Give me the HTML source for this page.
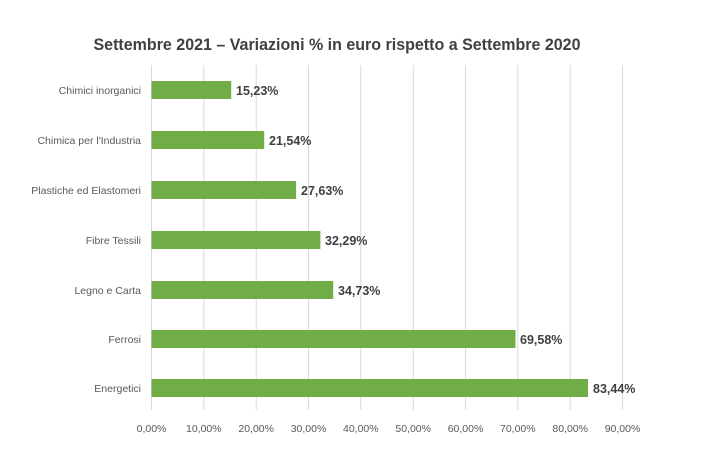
<!DOCTYPE html>
<html><head><meta charset="utf-8"><style>
body{margin:0;background:#fff;}
svg text{font-family:"Liberation Sans",sans-serif;}
</style></head><body>
<svg width="705" height="471" xmlns="http://www.w3.org/2000/svg">
<rect width="705" height="471" fill="#fff"/>
<text x="337" y="50" text-anchor="middle" font-size="16.5" font-weight="bold" fill="#404040" textLength="487" lengthAdjust="spacingAndGlyphs">Settembre 2021 – Variazioni % in euro rispetto a Settembre 2020</text>
<g stroke="#d9d9d9" stroke-width="1">
<line x1="151.5" y1="65" x2="151.5" y2="410"/>
<line x1="203.8" y1="65" x2="203.8" y2="410"/>
<line x1="256.2" y1="65" x2="256.2" y2="410"/>
<line x1="308.5" y1="65" x2="308.5" y2="410"/>
<line x1="360.8" y1="65" x2="360.8" y2="410"/>
<line x1="413.2" y1="65" x2="413.2" y2="410"/>
<line x1="465.5" y1="65" x2="465.5" y2="410"/>
<line x1="517.8" y1="65" x2="517.8" y2="410"/>
<line x1="570.2" y1="65" x2="570.2" y2="410"/>
<line x1="622.5" y1="65" x2="622.5" y2="410"/>
</g>
<g fill="#70ad47">
<rect x="151.5" y="81" width="79.7" height="18"/>
<rect x="151.5" y="131" width="112.7" height="18"/>
<rect x="151.5" y="181" width="144.6" height="18"/>
<rect x="151.5" y="231" width="168.9" height="18"/>
<rect x="151.5" y="281" width="181.7" height="18"/>
<rect x="151.5" y="330" width="364" height="18"/>
<rect x="151.5" y="379" width="436.5" height="18"/>
</g>
<g font-size="12.5" font-weight="bold" fill="#404040">
<text x="236" y="95">15,23%</text>
<text x="269" y="145">21,54%</text>
<text x="301" y="195">27,63%</text>
<text x="325" y="245">32,29%</text>
<text x="338" y="295">34,73%</text>
<text x="520" y="344">69,58%</text>
<text x="593" y="393">83,44%</text>
</g>
<g font-size="10.5" fill="#595959" text-anchor="end">
<text x="141" y="94">Chimici inorganici</text>
<text x="141" y="144">Chimica per l'Industria</text>
<text x="141" y="194">Plastiche ed Elastomeri</text>
<text x="141" y="244">Fibre Tessili</text>
<text x="141" y="294">Legno e Carta</text>
<text x="141" y="343">Ferrosi</text>
<text x="141" y="392">Energetici</text>
</g>
<g font-size="10.5" fill="#595959" text-anchor="middle">
<text x="151.5" y="432">0,00%</text>
<text x="203.8" y="432">10,00%</text>
<text x="256.2" y="432">20,00%</text>
<text x="308.5" y="432">30,00%</text>
<text x="360.8" y="432">40,00%</text>
<text x="413.2" y="432">50,00%</text>
<text x="465.5" y="432">60,00%</text>
<text x="517.8" y="432">70,00%</text>
<text x="570.2" y="432">80,00%</text>
<text x="622.5" y="432">90,00%</text>
</g>
</svg>
</body></html>
